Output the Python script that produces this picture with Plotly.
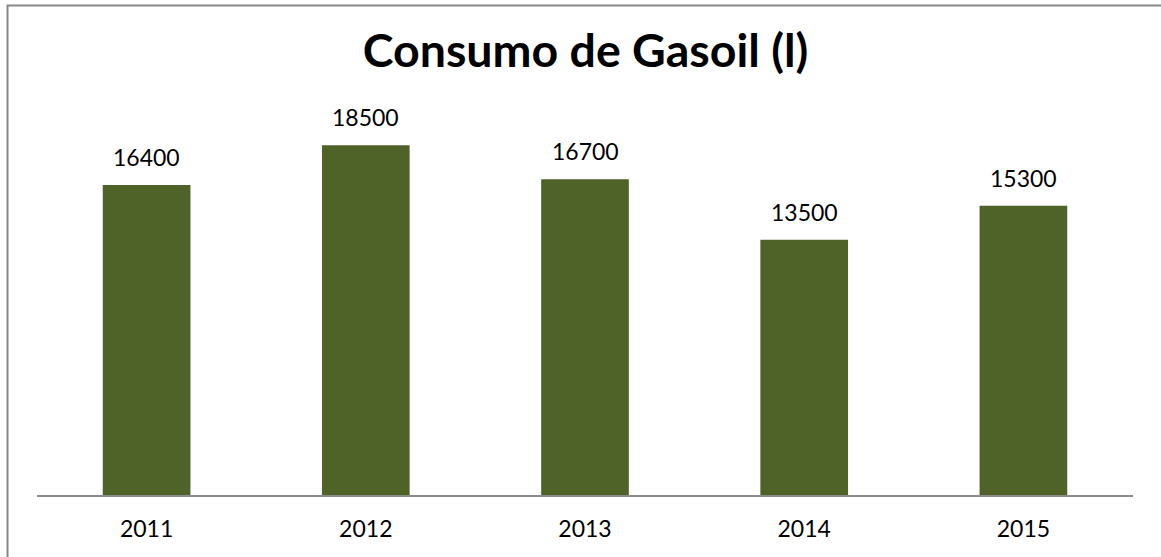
import plotly.graph_objects as go

years = ["2011", "2012", "2013", "2014", "2015"]
consumo = [16400, 18500, 16700, 13500, 15300]
title_text = "Consumo de Gasoil (l)"

BAR = "#4F6228"
FONT = "Lato"

fig = go.Figure()
fig.add_trace(go.Bar(
    x=years, y=consumo,
    marker=dict(color=BAR, line=dict(width=0)),
    hoverinfo="x+y",
))

for i, v in enumerate(consumo):
    fig.add_annotation(
        x=i, y=v, xref="x", yref="y", text=str(v), showarrow=False,
        yanchor="middle", yshift=28,
        font=dict(family=FONT, size=23, color="#000000"),
    )

fig.add_shape(
    type="rect", xref="paper", yref="paper",
    x0=-0.0269, x1=1.2, y0=-0.6, y1=1.295,
    line=dict(color="#878787", width=2), fillcolor="rgba(0,0,0,0)", layer="above",
)

fig.update_layout(
    width=1161, height=557,
    margin=dict(l=37, r=28, t=117, b=62, pad=0),
    paper_bgcolor="white", plot_bgcolor="white",
    showlegend=False, bargap=0.6,
    title=dict(text="<b>" + title_text + "</b>", x=585.5 / 1161, xanchor="center",
               xref="container", yref="container", y=1 - 51 / 557, yanchor="middle",
               font=dict(family=FONT, size=46.5, color="#000000")),
    xaxis=dict(type="category", showgrid=False, zeroline=False,
               showline=True, linecolor="#8c8c8c", linewidth=2,
               ticks="", ticklabelstandoff=12,
               tickfont=dict(family=FONT, size=23, color="#000000")),
    yaxis=dict(range=[0, 20000], visible=False, showgrid=False, zeroline=False),
)

fig.write_html("out.html", config={"displayModeBar": False},
               post_script="document.body.style.margin='0';")
